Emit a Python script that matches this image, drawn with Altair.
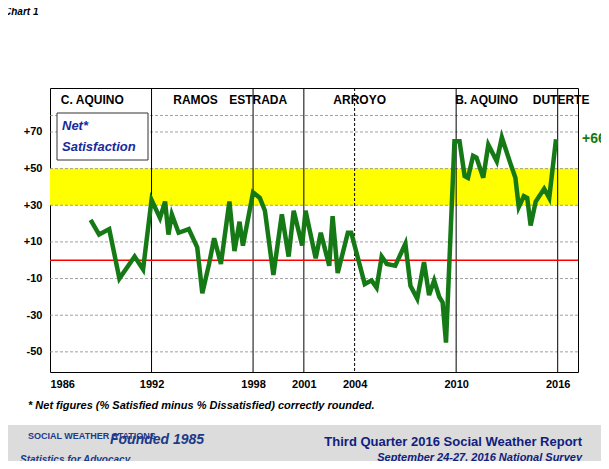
"""Net satisfaction with the national administration, Feb 1989 - Sep 2016 (SWS)."""

import altair as alt
import pandas as pd

YEARS = [1988.4, 1988.9, 1989.5, 1990.1, 1991.0, 1991.5, 1992.0, 1992.5, 1992.8, 1993.0,
         1993.2, 1993.6, 1994.2, 1994.7, 1995.0, 1995.4, 1995.7, 1996.1, 1996.6, 1996.9,
         1997.2, 1997.4, 1998.0, 1998.4, 1998.7, 1999.2, 1999.7, 2000.1, 2000.4, 2000.9,
         2001.1, 2001.7, 2002.0, 2002.5, 2002.7, 2003.0, 2003.6, 2003.8, 2004.6, 2005.0,
         2005.3, 2005.6, 2005.9, 2006.4, 2007.0, 2007.3, 2007.7, 2008.1, 2008.4, 2008.7,
         2009.0, 2009.2, 2009.4, 2009.9, 2010.2, 2010.5, 2010.7, 2011.0, 2011.2, 2011.6,
         2011.9, 2012.4, 2012.7, 2013.2, 2013.5, 2013.7, 2014.0, 2014.2, 2014.4, 2014.7,
         2015.2, 2015.5, 2015.9]
NET = [22, 14, 17, -10, 2, -5, 33, 23, 32, 14,
       25, 15, 17, 7, -18, -2, 12, -2, 32, 5,
       21, 8, 37, 34, 27, -8, 25, 2, 27, 8,
       27, 1, 15, -3, 24, -7, 15, 15, -13, -11,
       -15, 2, -2, -3, 9, -14, -21, -1, -19, -11,
       -20, -23, -45, 65, 65, 46, 45, 57, 56, 45,
       63, 54, 67, 53, 45, 29, 35, 34, 19, 32,
       39, 34, 66]

ERA_NAMES = ["C. AQUINO", "RAMOS", "ESTRADA", "ARROYO", "B. AQUINO", "DUTERTE"]
ERA_POS = [1988.5, 1994.6, 1998.3, 2004.3, 2011.8, 2016.2]
ERA_LINES = [1992, 1998, 2001, 2010, 2016]
X_TICKS = [1986, 1992, 1998, 2001, 2004, 2010, 2016]
Y_TICKS = [-50, -30, -10, 10, 30, 50, 70]

X_DOM = [1986, 2017.2]
Y_DOM = [-61, 94]
W, H = 528, 284
BLUE = "#1a2a9a"

series = pd.DataFrame({"year": YEARS, "net": NET})
x_scale = alt.Scale(domain=X_DOM, nice=False, zero=False)
y_scale = alt.Scale(domain=Y_DOM, nice=False, zero=False)
x = alt.X("year:Q", scale=x_scale,
          axis=alt.Axis(values=X_TICKS, format="d", title=None, grid=False, ticks=False,
                        labelFontWeight="bold", labelFontSize=11, labelColor="black",
                        labelPadding=6, domain=False, labelFont="Arial"))

band = alt.Chart(pd.DataFrame({"lo": [30], "hi": [50]})).mark_rect(color="#ffff00").encode(
    y=alt.Y("lo:Q", scale=y_scale), y2="hi:Q")

grid = alt.Chart(pd.DataFrame({"v": Y_TICKS + [79]})).mark_rule(
    color="#888", strokeDash=[3, 2], strokeWidth=0.8).encode(
    y=alt.Y("v:Q", scale=y_scale,
            axis=alt.Axis(values=Y_TICKS,
                          labelExpr="datum.value > 0 ? '+' + datum.value : datum.value",
                          title=None, grid=False, ticks=False, domain=False,
                          labelFontWeight="bold", labelFontSize=11, labelColor="black",
                          labelPadding=8, labelFont="Arial")))

eras = alt.Chart(pd.DataFrame({"yr": ERA_LINES})).mark_rule(color="black", strokeWidth=1).encode(
    x=alt.X("yr:Q", scale=x_scale))
arroyo = alt.Chart(pd.DataFrame({"yr": [2004]})).mark_rule(
    color="black", strokeDash=[3, 2], strokeWidth=1).encode(x=alt.X("yr:Q", scale=x_scale))

zero = alt.Chart(pd.DataFrame({"v": [0]})).mark_rule(color="red", strokeWidth=1.5).encode(
    y=alt.Y("v:Q", scale=y_scale))

line = alt.Chart(series).mark_line(color="#157a15", strokeWidth=4.5).encode(
    x=x, y=alt.Y("net:Q", scale=y_scale))

era_text = alt.Chart(pd.DataFrame({"name": ERA_NAMES, "yr": ERA_POS})).mark_text(
    fontWeight="bold", fontSize=12, font="Arial").encode(
    x=alt.X("yr:Q", scale=x_scale), y=alt.value(12), text="name:N")

last = alt.Chart(pd.DataFrame({"t": ["+66"]})).mark_text(
    fontWeight="bold", fontSize=14, color="#157a15", align="left", font="Arial").encode(
    x=alt.value(W + 4), y=alt.value(51), text="t:N")

box = alt.Chart(pd.DataFrame({"a": [1]})).mark_rect(
    fill="white", stroke="#333", strokeWidth=1).encode(
    x=alt.value(7), x2=alt.value(98), y=alt.value(25), y2=alt.value(72))
box_text = alt.Chart(pd.DataFrame({"t": ["Net*", "Satisfaction"], "yy": [38, 59]})).mark_text(
    fontWeight="bold", fontStyle="italic", fontSize=13, color=BLUE, align="left",
    font="Arial").encode(x=alt.value(12), y=alt.Y("yy:Q", scale=None), text="t:N")

banner = alt.Chart(pd.DataFrame({"a": [1]})).mark_rect(color="#dcdcdc").encode(
    x=alt.value(-48), x2=alt.value(W + 70), y=alt.value(H + 53), y2=alt.value(H + 100))


def note(text, px, py, size, color, align="left", style="italic"):
    return alt.Chart(pd.DataFrame({"t": [text]})).mark_text(
        fontWeight="bold", fontStyle=style, fontSize=size, color=color, align=align,
        font="Arial").encode(x=alt.value(px), y=alt.value(py), text="t:N")


notes = [
    note("Chart 1", -46, -76, 10, "black"),
    note("* Net figures (% Satisfied minus % Dissatisfied) correctly rounded.", -22, H + 34, 11, "black"),
    note("Third Quarter 2016 Social Weather Report", W + 4, H + 70, 13, "#102080", "right", "normal"),
    note("September 24-27, 2016 National Survey", W + 4, H + 86, 11, "#102080", "right"),
    note("SOCIAL WEATHER STATIONS", -22, H + 64, 9, "#1a3a8a", style="normal"),
    note("Founded 1985", 60, H + 68, 14, "#1a3a8a"),
    note("Statistics for Advocacy", -30, H + 88, 10, "#1a3a8a"),
]

chart = alt.layer(band, grid, eras, arroyo, zero, line, era_text, last, box, box_text,
                  banner, *notes).properties(
    width=W, height=H,
    autosize=alt.AutoSizeParams(type="none"),
    padding={"left": 42, "top": 80, "right": 23, "bottom": 89},
    title=alt.TitleParams(
        ["NET* SATISFACTION WITH GENERAL PERFORMANCE",
         "OF THE NATIONAL ADMINISTRATION, FEB 1989 \u2013 SEP 2016"],
        fontSize=16, fontStyle="italic", fontWeight="bold", color=BLUE,
        anchor="middle", offset=22, lineHeight=20, font="Arial"),
).configure_view(stroke="black", strokeWidth=1)
chart.save("out.html", embed_options={"renderer": "svg", "actions": False})
